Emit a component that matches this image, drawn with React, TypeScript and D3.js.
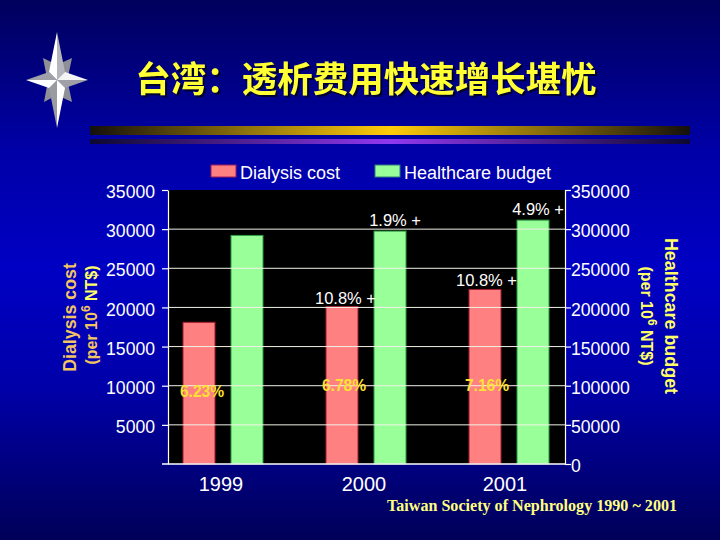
import React, { useEffect, useRef } from "react";
import * as d3 from "d3";

const years = ["1999", "2000", "2001"];
const dialysisCost = [18100, 20100, 22300];
const healthcareBudget = [292000, 297500, 311500];
const costGrowth = ["", "10.8% +", "10.8% +"];
const budgetGrowth = ["", "1.9% +", "4.9% +"];
const costShare = ["6.23%", "6.78%", "7.16%"];
const leftTicks = [5000, 10000, 15000, 20000, 25000, 30000, 35000];
const rightTicks = [0, 50000, 100000, 150000, 200000, 250000, 300000, 350000];

const width = 720;
const height = 540;
const plot = { left: 168, right: 565, top: 190, bottom: 464 };
const sans = "'Liberation Sans', Arial, sans-serif";
const yellow = "#ffff66";
const tan = "#f2c463";

export default function App() {
  const svgRef = useRef<SVGSVGElement>(null);

  useEffect(() => {
    if (!svgRef.current) return;
    const svg = d3.select(svgRef.current);
    svg.selectAll("*").remove();

    const defs = svg.append("defs");
    const gradient = (id: string, horizontal: boolean, stops: [number, string][]) => {
      const g = defs
        .append("linearGradient")
        .attr("id", id)
        .attr("x1", 0)
        .attr("y1", 0)
        .attr("x2", horizontal ? 1 : 0)
        .attr("y2", horizontal ? 0 : 1);
      stops.forEach(([o, c]) => g.append("stop").attr("offset", o).attr("stop-color", c));
    };
    gradient("bg", false, [
      [0, "#00005c"],
      [0.28, "#0000a8"],
      [0.5, "#0000c4"],
      [0.72, "#0000a8"],
      [1, "#000058"],
    ]);
    gradient("gold", true, [
      [0, "#14100c"],
      [0.5, "#ffcc0a"],
      [1, "#14100c"],
    ]);
    gradient("violet", true, [
      [0, "#0c0830"],
      [0.5, "#9038f0"],
      [1, "#0c0830"],
    ]);

    svg.append("rect").attr("width", width).attr("height", height).attr("fill", "url(#bg)");

    // compass star
    const star = svg.append("g").attr("transform", "translate(57,80)");
    const diagonal = [
      [-14, -22],
      [15, -22],
      [15, 22],
      [-13, 22],
    ];
    diagonal.forEach(([dx, dy]) => {
      star
        .append("path")
        .attr("d", `M0,0L${dx * 0.2},${dy * 0.75}L${dx},${dy}L${dx * 0.75},${dy * 0.2}Z`)
        .attr("fill", "#8f8f98");
    });
    const halves: [number, number, number, number, string][] = [
      [0, -48, -8, -8, "#ffffff"],
      [0, -48, 8, -8, "#b4b4bc"],
      [31, 0, 8, -8, "#f4f4f4"],
      [31, 0, 8, 8, "#a0a0a8"],
      [0, 48, -8, 8, "#9a9aa2"],
      [0, 48, 8, 8, "#ffffff"],
      [-31, 0, -8, -8, "#a0a0a8"],
      [-31, 0, -8, 8, "#ffffff"],
    ];
    halves.forEach(([px, py, wx, wy, fill]) => {
      star.append("path").attr("d", `M0,0L${px},${py}L${wx},${wy}Z`).attr("fill", fill);
    });

    // title and divider bars
    svg
      .append("text")
      .attr("x", 366)
      .attr("y", 92)
      .attr("text-anchor", "middle")
      .attr("font-family", "'Noto Sans CJK SC'")
      .attr("font-weight", 700)
      .attr("font-size", 35.5)
      .attr("fill", "#ffff33")
      .style("filter", "drop-shadow(2px 2px 0 #000030)")
      .text("台湾：透析费用快速增长堪忧");
    svg.append("rect").attr("x", 90).attr("y", 126).attr("width", 600).attr("height", 9).attr("fill", "url(#gold)");
    svg.append("rect").attr("x", 90).attr("y", 139).attr("width", 600).attr("height", 5).attr("fill", "url(#violet)");

    // scales
    const x0 = d3.scaleBand<string>().domain(years).range([151.5, 580.5]);
    const barW = 32;
    const gap = 16;
    const yL = d3.scaleLinear().domain([0, 35000]).range([plot.bottom, plot.top]);
    const yR = d3.scaleLinear().domain([0, 350000]).range([plot.bottom, plot.top]);
    const center = (y: string) => x0(y)! + x0.bandwidth() / 2;

    svg
      .append("rect")
      .attr("x", plot.left)
      .attr("y", plot.top)
      .attr("width", plot.right - plot.left)
      .attr("height", plot.bottom - plot.top)
      .attr("fill", "#000");

    // bars
    svg
      .append("g")
      .selectAll("rect")
      .data(dialysisCost)
      .join("rect")
      .attr("x", (_, i) => center(years[i]) - gap / 2 - barW)
      .attr("y", (d) => yL(d))
      .attr("width", barW)
      .attr("height", (d) => plot.bottom - yL(d))
      .attr("fill", "#ff8080")
      .attr("stroke", "#a01c30")
      .attr("stroke-width", 1);
    svg
      .append("g")
      .selectAll("rect")
      .data(healthcareBudget)
      .join("rect")
      .attr("x", (_, i) => center(years[i]) + gap / 2)
      .attr("y", (d) => yR(d))
      .attr("width", barW)
      .attr("height", (d) => plot.bottom - yR(d))
      .attr("fill", "#99ff99")
      .attr("stroke", "#2f9a45")
      .attr("stroke-width", 1);

    // gridlines sit on top of the bars
    svg
      .append("g")
      .selectAll("line")
      .data(leftTicks.filter((t) => t < 35000))
      .join("line")
      .attr("x1", plot.left)
      .attr("x2", plot.right)
      .attr("y1", (d) => yL(d))
      .attr("y2", (d) => yL(d))
      .attr("stroke", "#f2f2e8")
      .attr("stroke-width", 1);

    // axes
    const styleAxis = (g: d3.Selection<SVGGElement, unknown, null, undefined>) => {
      g.selectAll("path,line").attr("stroke", "#fff").attr("stroke-width", 1.2);
      g.selectAll("text")
        .attr("fill", "#fff")
        .attr("font-family", sans)
        .attr("font-size", 17.6)
        .attr("transform", "translate(0,2)");
    };
    const leftAxis = svg
      .append("g")
      .attr("transform", `translate(${plot.left},0)`)
      .call(d3.axisLeft(yL).tickValues(leftTicks).tickSize(6).tickSizeOuter(0).tickPadding(7).tickFormat(d3.format("d")) as any);
    styleAxis(leftAxis as any);
    const rightAxis = svg
      .append("g")
      .attr("transform", `translate(${plot.right},0)`)
      .call(d3.axisRight(yR).tickValues(rightTicks).tickSize(6).tickSizeOuter(0).tickPadding(0).tickFormat(d3.format("d")) as any);
    styleAxis(rightAxis as any);

    svg
      .append("line")
      .attr("x1", plot.left - 6)
      .attr("x2", plot.right)
      .attr("y1", plot.bottom)
      .attr("y2", plot.bottom)
      .attr("stroke", "#fff")
      .attr("stroke-width", 1.5);

    // year labels
    svg
      .append("g")
      .selectAll("text")
      .data(years)
      .join("text")
      .attr("x", (d, i) => center(d) - 2 - (i === 2 ? 2 : 0))
      .attr("y", 491)
      .attr("text-anchor", "middle")
      .attr("font-family", sans)
      .attr("font-size", 20)
      .attr("fill", "#fff")
      .text((d) => d);

    // growth annotations
    const note = (label: string, xEnd: number, y: number) =>
      svg
        .append("text")
        .attr("x", xEnd)
        .attr("y", y)
        .attr("text-anchor", "end")
        .attr("font-family", sans)
        .attr("font-size", 16.5)
        .attr("fill", "#fff")
        .text(label);
    costGrowth.forEach((label, i) => {
      if (label) note(label, center(years[i]) + 10 - (i === 2 ? 2 : 0), yL(dialysisCost[i]) - 3);
    });
    budgetGrowth.forEach((label, i) => {
      if (label) note(label, center(years[i]) + 55, yR(healthcareBudget[i]) - 5);
    });

    svg
      .append("g")
      .selectAll("text")
      .data(costShare)
      .join("text")
      .attr("x", (_, i) => center(years[i]) - 21 - (i === 0 ? 0 : i === 1 ? 1 : 1))
      .attr("y", (_, i) => yL(10000) + (i === 0 ? 11 : 5))
      .attr("text-anchor", "middle")
      .attr("font-family", sans)
      .attr("font-weight", 700)
      .attr("font-size", 15.6)
      .attr("fill", "#ffe033")
      .text((d) => d);

    // legend
    const legend = [
      { label: "Dialysis cost", x: 211, fill: "#ff8080", stroke: "#a01c5a" },
      { label: "Healthcare budget", x: 375, fill: "#99ff99", stroke: "#2f7f7a" },
    ];
    legend.forEach((l) => {
      svg
        .append("rect")
        .attr("x", l.x)
        .attr("y", 165)
        .attr("width", 25)
        .attr("height", 12)
        .attr("fill", l.fill)
        .attr("stroke", l.stroke);
      svg
        .append("text")
        .attr("x", l.x + 29)
        .attr("y", 179)
        .attr("font-family", sans)
        .attr("font-size", 18)
        .attr("fill", "#fff")
        .text(l.label);
    });

    // axis titles
    const unit = (x: number, y: number, rot: number, first: string, second: string) => {
      const t = svg
        .append("text")
        .attr("transform", `translate(${x},${y}) rotate(${rot})`)
        .attr("text-anchor", "middle")
        .attr("font-family", sans)
        .attr("font-weight", 700)
        .attr("font-size", 16)
        .attr("fill", first);
      t.append("tspan").text("(per 10");
      t.append("tspan").attr("dy", -7).attr("font-size", 12).text("6");
      t.append("tspan").attr("dy", 7).attr("fill", second).text(" NT$)");
    };
    svg
      .append("text")
      .attr("transform", "translate(76,317.5) rotate(-90)")
      .attr("text-anchor", "middle")
      .attr("font-family", sans)
      .attr("font-weight", 700)
      .attr("font-size", 17.8)
      .attr("fill", tan)
      .text("Dialysis cost");
    unit(97, 315, -90, tan, yellow);
    svg
      .append("text")
      .attr("transform", "translate(665,316) rotate(90)")
      .attr("text-anchor", "middle")
      .attr("font-family", sans)
      .attr("font-weight", 700)
      .attr("font-size", 17.9)
      .attr("fill", yellow)
      .text("Healthcare budget");
    unit(641, 316, 90, yellow, yellow);

    // source
    svg
      .append("text")
      .attr("x", 387)
      .attr("y", 511)
      .attr("font-family", "'Liberation Serif', serif")
      .attr("font-weight", 700)
      .attr("font-size", 16.1)
      .attr("fill", "#ffff80")
      .text("Taiwan Society of Nephrology 1990 ~ 2001");
  }, []);

  return (
    <svg
      ref={svgRef}
      width={width}
      height={height}
      style={{ position: "absolute", left: 0, top: 0, display: "block" }}
    />
  );
}
